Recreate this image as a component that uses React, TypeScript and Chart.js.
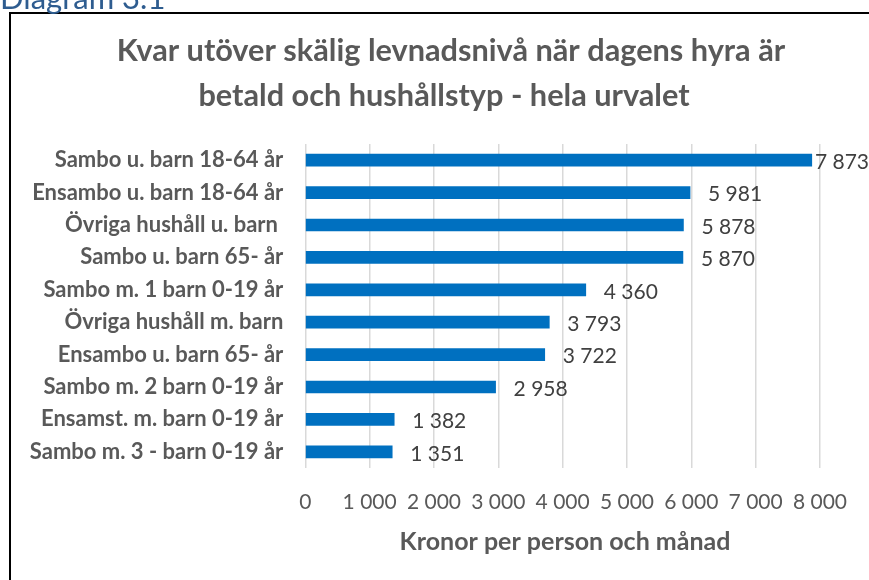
import React, { useEffect, useRef } from "react";
import { Chart, registerables } from "chart.js";

Chart.register(...registerables);

const categories = [
  "Sambo u. barn 18-64 år",
  "Ensambo u. barn 18-64 år",
  "Övriga hushåll u. barn ",
  "Sambo u. barn 65- år",
  "Sambo m. 1 barn 0-19 år",
  "Övriga hushåll m. barn",
  "Ensambo u. barn 65- år",
  "Sambo m. 2 barn 0-19 år",
  "Ensamst. m. barn 0-19 år",
  "Sambo m. 3 - barn 0-19 år",
];
const values = [7873, 5981, 5878, 5870, 4360, 3793, 3722, 2958, 1382, 1351];
const titleLines = [
  "Kvar utöver skälig levnadsnivå när dagens hyra är",
  "betald och hushållstyp - hela urvalet",
];
const axisTitle = "Kronor per person och månad";
const diagramLabel = "Diagram 3.1";
const xMin = 0;
const xMax = 8000;
const xStep = 1000;

const fmt = (n: number) => String(n).replace(/\B(?=(\d{3})+(?!\d))/g, " ");

const FONT = "Lato";
const GREY = "#595959";

const decorPlugin = {
  id: "decor",
  beforeDraw(chart: any) {
    const ctx = chart.ctx;
    ctx.save();
    ctx.fillStyle = "#ffffff";
    ctx.fillRect(0, 0, chart.width, chart.height);
    // frame
    ctx.strokeStyle = "#000000";
    ctx.lineWidth = 2;
    ctx.beginPath();
    ctx.moveTo(10, chart.height + 2);
    ctx.lineTo(10, 13);
    ctx.lineTo(chart.width + 2, 13);
    ctx.stroke();
    // cut-off caption
    ctx.fillStyle = "#2e5c8f";
    ctx.font = `31px ${FONT}`;
    ctx.textAlign = "left";
    ctx.textBaseline = "alphabetic";
    ctx.fillText(diagramLabel, 0, 9);
    ctx.restore();
  },
  afterDatasetsDraw(chart: any) {
    const ctx = chart.ctx;
    const meta = chart.getDatasetMeta(0);
    ctx.save();
    ctx.font = `21px ${FONT}`;
    ctx.fillStyle = "#404040";
    ctx.textAlign = "left";
    ctx.textBaseline = "middle";
    meta.data.forEach((bar: any, i: number) => {
      const txt = fmt(values[i]);
      const w = ctx.measureText(txt).width;
      const x = Math.min(bar.x + 18, chart.width - w);
      ctx.fillText(txt, x, bar.y + 2);
    });
    // title
    ctx.font = `bold 30.7px ${FONT}`;
    ctx.fillStyle = GREY;
    ctx.textAlign = "center";
    ctx.fillText(titleLines[0], 451, 51);
    ctx.fillText(titleLines[1], 444, 96);
    // axis title
    ctx.font = `bold 25px ${FONT}`;
    ctx.fillText(axisTitle, 565, 542);
    ctx.restore();
  },
};

export default function App() {
  const ref = useRef<HTMLCanvasElement | null>(null);
  useEffect(() => {
    if (!ref.current) return;
    const chart = new Chart(ref.current, {
      type: "bar",
      data: {
        labels: categories,
        datasets: [
          {
            data: values,
            backgroundColor: "#0070c0",
            borderWidth: 0,
            barThickness: 12,
          },
        ],
      },
      options: {
        indexAxis: "y",
        animation: false,
        responsive: false,
        devicePixelRatio: 1,
        layout: { padding: { top: 144, right: 48.3, bottom: 0, left: 0 } },
        plugins: {
          legend: { display: false },
          title: { display: false },
          tooltip: { enabled: false },
        },
        scales: {
          x: {
            min: xMin,
            max: xMax,
            border: { display: false },
            grid: { color: "#d9d9d9", lineWidth: 1.5, drawTicks: false },
            ticks: {
              stepSize: xStep,
              padding: 22,
              color: GREY,
              font: { family: FONT, size: 21 },
              callback: (v: any) => fmt(Number(v)),
            },
            afterFit: (s: any) => {
              s.height = 112;
            },
          },
          y: {
            border: { display: false },
            grid: { display: false, drawTicks: false },
            ticks: {
              padding: 22,
              color: GREY,
              font: { family: FONT, size: 22, weight: "bold" },
            },
            afterFit: (s: any) => {
              s.width = 305.3;
            },
          },
        },
      },
      plugins: [decorPlugin],
    } as any);
    return () => chart.destroy();
  }, []);
  return (
    <div style={{ position: "absolute", left: 0, top: 0, width: 869, height: 580, overflow: "hidden" }}>
      <canvas ref={ref} width={869} height={580} style={{ display: "block", width: 869, height: 580 }} />
    </div>
  );
}
